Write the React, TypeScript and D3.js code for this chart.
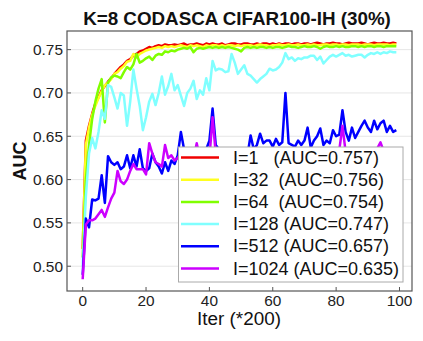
import React from 'react';
import * as d3 from 'd3';

// AUC per iteration (x = index, *200 iters)
const i1 = [0.52, 0.645, 0.662, 0.676, 0.688, 0.695, 0.703, 0.708, 0.713, 0.717, 0.722, 0.726, 0.730, 0.733, 0.737, 0.739, 0.743, 0.745, 0.748, 0.749,
  0.751, 0.753, 0.752, 0.754, 0.755, 0.754, 0.756, 0.755, 0.755, 0.756, 0.755, 0.756, 0.757, 0.755, 0.756, 0.756, 0.757, 0.756, 0.755, 0.757,
  0.756, 0.757, 0.756, 0.756, 0.757, 0.755, 0.756, 0.757, 0.757, 0.756, 0.756, 0.757, 0.757, 0.756, 0.756, 0.757, 0.756, 0.757, 0.757, 0.756,
  0.757, 0.756, 0.757, 0.756, 0.757, 0.757, 0.756, 0.757, 0.757, 0.756, 0.757, 0.757, 0.756, 0.757, 0.758, 0.757, 0.756, 0.757, 0.757, 0.758,
  0.757, 0.757, 0.756, 0.757, 0.758, 0.757, 0.757, 0.757, 0.758, 0.757, 0.756, 0.757, 0.758, 0.757, 0.757, 0.758, 0.757, 0.757, 0.758, 0.757];
const i32 = [0.52, 0.64, 0.66, 0.675, 0.685, 0.694, 0.702, 0.709, 0.712, 0.716, 0.722, 0.724, 0.728, 0.731, 0.736, 0.737, 0.745, 0.741, 0.745, 0.747,
  0.749, 0.750, 0.751, 0.752, 0.753, 0.752, 0.754, 0.753, 0.754, 0.753, 0.754, 0.755, 0.754, 0.753, 0.755, 0.754, 0.755, 0.754, 0.753, 0.755,
  0.754, 0.755, 0.755, 0.754, 0.755, 0.754, 0.755, 0.755, 0.754, 0.755, 0.754, 0.755, 0.755, 0.755, 0.754, 0.755, 0.756, 0.755, 0.755, 0.754,
  0.755, 0.755, 0.756, 0.755, 0.755, 0.756, 0.755, 0.755, 0.756, 0.755, 0.755, 0.756, 0.755, 0.756, 0.755, 0.755, 0.756, 0.756, 0.755, 0.756,
  0.756, 0.755, 0.756, 0.756, 0.755, 0.756, 0.756, 0.756, 0.755, 0.756, 0.756, 0.756, 0.755, 0.756, 0.756, 0.756, 0.756, 0.755, 0.756, 0.756];
const i64 = [0.51, 0.60, 0.64, 0.67, 0.69, 0.705, 0.716, 0.666, 0.712, 0.718, 0.72, 0.719, 0.717, 0.724, 0.73, 0.727, 0.733, 0.745, 0.735, 0.737,
  0.74, 0.742, 0.738, 0.743, 0.745, 0.744, 0.748, 0.747, 0.749, 0.748, 0.750, 0.751, 0.752, 0.751, 0.753, 0.747, 0.751, 0.752, 0.751, 0.752,
  0.753, 0.752, 0.753, 0.752, 0.753, 0.752, 0.753, 0.752, 0.751, 0.750, 0.748, 0.752, 0.753, 0.752, 0.753, 0.752, 0.753, 0.753, 0.752, 0.753,
  0.752, 0.753, 0.753, 0.752, 0.753, 0.754, 0.753, 0.753, 0.752, 0.753, 0.754, 0.753, 0.753, 0.754, 0.753, 0.751, 0.753, 0.754, 0.753, 0.753,
  0.754, 0.753, 0.754, 0.753, 0.753, 0.754, 0.754, 0.753, 0.754, 0.753, 0.754, 0.754, 0.753, 0.754, 0.754, 0.753, 0.754, 0.754, 0.754, 0.754];
const i128 = [0.50, 0.58, 0.63, 0.648, 0.636, 0.655, 0.68, 0.67, 0.709, 0.707, 0.695, 0.682, 0.70, 0.697, 0.662, 0.69, 0.727, 0.705, 0.685, 0.657,
  0.672, 0.69, 0.699, 0.686, 0.70, 0.719, 0.698, 0.708, 0.722, 0.703, 0.709, 0.697, 0.685, 0.70, 0.705, 0.714, 0.693, 0.703, 0.698, 0.717,
  0.703, 0.737, 0.726, 0.728, 0.727, 0.724, 0.725, 0.745, 0.735, 0.722, 0.727, 0.732, 0.722, 0.72, 0.716, 0.712, 0.716, 0.719, 0.722, 0.728,
  0.726, 0.727, 0.73, 0.735, 0.746, 0.739, 0.741, 0.737, 0.74, 0.739, 0.741, 0.741, 0.743, 0.743, 0.738, 0.742, 0.734, 0.738, 0.742, 0.744,
  0.742, 0.744, 0.746, 0.743, 0.744, 0.742, 0.743, 0.744, 0.744, 0.741, 0.744, 0.746, 0.745, 0.747, 0.745, 0.747, 0.746, 0.748, 0.747, 0.747];
const i512 = [0.49, 0.555, 0.545, 0.577, 0.576, 0.578, 0.605, 0.573, 0.627, 0.62, 0.617, 0.62, 0.612, 0.615, 0.628, 0.613, 0.628, 0.615, 0.635, 0.613,
  0.61, 0.613, 0.63, 0.62, 0.615, 0.607, 0.62, 0.61, 0.622, 0.618, 0.628, 0.655, 0.635, 0.628, 0.63, 0.625, 0.632, 0.628, 0.62, 0.635,
  0.645, 0.682, 0.64, 0.635, 0.628, 0.625, 0.63, 0.632, 0.625, 0.62, 0.63, 0.635, 0.628, 0.651, 0.635, 0.64, 0.653, 0.642, 0.645, 0.645,
  0.638, 0.647, 0.64, 0.643, 0.70, 0.642, 0.64, 0.638, 0.645, 0.64, 0.645, 0.66, 0.637, 0.645, 0.65, 0.659, 0.64, 0.645, 0.642, 0.657,
  0.65, 0.652, 0.68, 0.655, 0.645, 0.66, 0.648, 0.655, 0.662, 0.668, 0.66, 0.655, 0.668, 0.658, 0.665, 0.668, 0.655, 0.662, 0.655, 0.657];
const i1024 = [0.485, 0.548, 0.553, 0.553, 0.555, 0.56, 0.565, 0.557, 0.568, 0.578, 0.585, 0.61, 0.598, 0.595, 0.60, 0.61, 0.618, 0.612, 0.612, 0.612,
  0.606, 0.642, 0.63, 0.62, 0.618, 0.615, 0.64, 0.625, 0.628, 0.622, 0.625, 0.63, 0.625, 0.628, 0.62, 0.625, 0.642, 0.625, 0.63, 0.628,
  0.625, 0.672, 0.63, 0.625, 0.628, 0.622, 0.627, 0.63, 0.624, 0.628, 0.626, 0.63, 0.625, 0.628, 0.63, 0.627, 0.632, 0.628, 0.63, 0.626,
  0.63, 0.628, 0.632, 0.63, 0.627, 0.63, 0.633, 0.628, 0.63, 0.632, 0.63, 0.628, 0.633, 0.63, 0.632, 0.63, 0.628, 0.632, 0.63, 0.633,
  0.63, 0.634, 0.662, 0.632, 0.63, 0.633, 0.63, 0.632, 0.634, 0.63, 0.633, 0.632, 0.634, 0.636, 0.643, 0.633, 0.635, 0.634, 0.633, 0.635];

const labels = ['I=1   (AUC=0.757)', 'I=32  (AUC=0.756)', 'I=64  (AUC=0.754)', 'I=128 (AUC=0.747)', 'I=512 (AUC=0.657)', 'I=1024 (AUC=0.635)'];
const colors = ['#f00000', '#ffff20', '#80ff00', '#80ffff', '#0000ff', '#cc00ff'];
const series = [i1, i32, i64, i128, i512, i1024];
const xTicks = [0, 20, 40, 60, 80, 100];
const yTicks = [0.5, 0.55, 0.6, 0.65, 0.7, 0.75];

const W = 423;
const H = 341;
const m = { left: 67, right: 412, top: 31, bottom: 291 };
const font = 'Liberation Sans, Arial, sans-serif';

export default function App() {
  const x = d3.scaleLinear().domain([-4.95, 103.95]).range([m.left, m.right]);
  const y = d3.scaleLinear().domain([0.4714, 0.7715]).range([m.bottom, m.top]);
  const line = d3.line<number>().x((_, i) => x(i)).y((d) => y(d));

  const legX = 178.5;
  const legY = 147;
  const rowH = 22.2;

  return (
    <svg width={W} height={H} style={{ position: 'absolute', left: 0, top: 0, background: '#fff' }} fontFamily={font}>
      <defs>
        <clipPath id="plot">
          <rect x={m.left} y={m.top} width={m.right - m.left} height={m.bottom - m.top} />
        </clipPath>
      </defs>
      {/* grid */}
      {yTicks.map((t) => (
        <line key={t} x1={m.left} x2={m.right} y1={y(t)} y2={y(t)} stroke="#e6e6e6" strokeWidth={1} />
      ))}
      {/* series */}
      <g clipPath="url(#plot)">
        {series.map((s, k) => (
          <path key={k} d={line(s) ?? ''} fill="none" stroke={colors[k]} strokeWidth={2.5} strokeLinejoin="round" />
        ))}
      </g>
      {/* ticks (inward) */}
      {yTicks.map((t) => (
        <g key={t}>
          <line x1={m.left} x2={m.left + 4} y1={y(t)} y2={y(t)} stroke="#555" />
          <text x={m.left - 4} y={y(t) + 5.5} textAnchor="end" fontSize={15.4} fill="#222">{t.toFixed(2)}</text>
        </g>
      ))}
      {xTicks.map((t) => (
        <g key={t}>
          <line x1={x(t)} x2={x(t)} y1={m.bottom} y2={m.bottom - 4} stroke="#555" />
          <text x={x(t)} y={306} textAnchor="middle" fontSize={15.4} fill="#222">{t}</text>
        </g>
      ))}
      {/* legend */}
      <rect x={legX} y={legY} width={224.5} height={135} fill="#fff" stroke="#aaa" strokeWidth={1} />
      {labels.map((l, k) => (
        <g key={l}>
          <line x1={181} x2={219} y1={legY + 10.5 + k * rowH} y2={legY + 10.5 + k * rowH} stroke={colors[k]} strokeWidth={2.5} />
          <text x={233} y={legY + 16.5 + k * rowH} fontSize={18} fill="#111" style={{ whiteSpace: 'pre' }}>{l}</text>
        </g>
      ))}
      {/* frame */}
      <rect x={m.left} y={m.top} width={m.right - m.left} height={m.bottom - m.top} fill="none" stroke="#555" strokeWidth={1.2} />
      {/* titles */}
      <text x={237} y={25} textAnchor="middle" fontSize={18.8} fontWeight="bold" fill="#111">K=8 CODASCA CIFAR100-IH (30%)</text>
      <text x={239} y={325} textAnchor="middle" fontSize={18.9} fill="#111">Iter (*200)</text>
      <text transform="translate(26,161) rotate(-90)" textAnchor="middle" fontSize={18} fontWeight="bold" fill="#111">AUC</text>
    </svg>
  );
}
